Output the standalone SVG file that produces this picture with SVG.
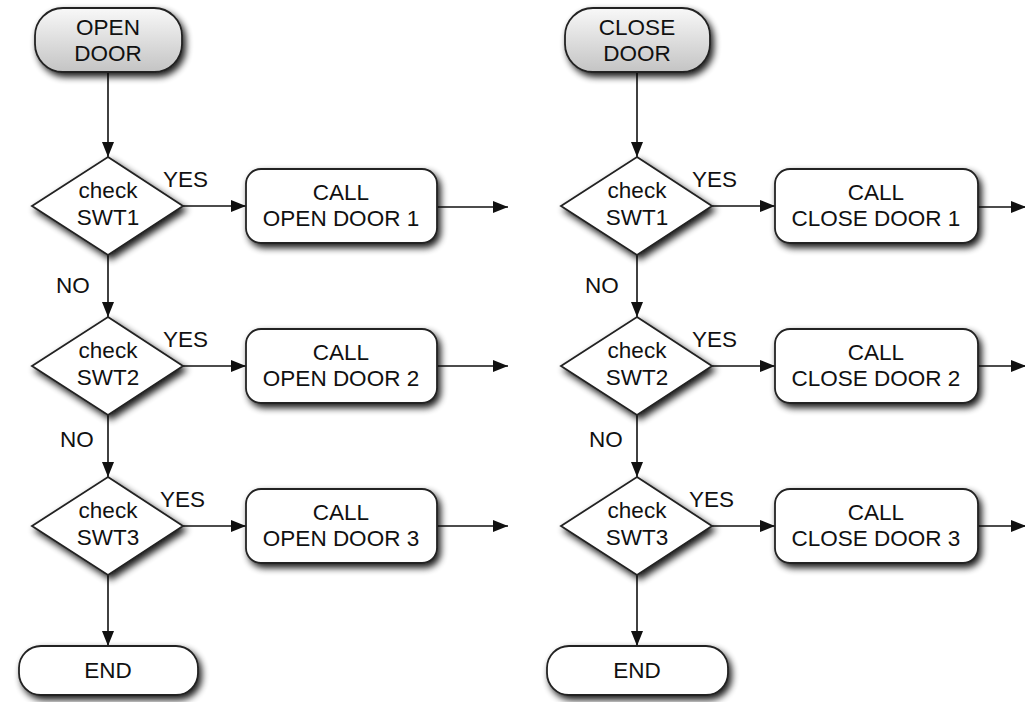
<svg xmlns="http://www.w3.org/2000/svg" width="1025" height="702" viewBox="0 0 1025 702">
<defs>
<filter id="sh" x="-20%" y="-20%" width="150%" height="160%">
<feGaussianBlur in="SourceAlpha" stdDeviation="3.5"/>
<feOffset dx="3" dy="4" result="b"/>
<feComponentTransfer><feFuncA type="linear" slope="0.9"/></feComponentTransfer>
<feMerge><feMergeNode/><feMergeNode in="SourceGraphic"/></feMerge>
</filter>
<linearGradient id="gr" x1="0" y1="0" x2="0" y2="1">
<stop offset="0" stop-color="#f8f8f8"/>
<stop offset="1" stop-color="#c4c4c4"/>
</linearGradient>
<marker id="ah" markerWidth="15" markerHeight="12" refX="15" refY="6" orient="auto" markerUnits="userSpaceOnUse">
<path d="M0,0 L15,6 L0,12 Z" fill="#111"/>
</marker>
</defs>
<style>
.s{fill:#fff;stroke:#222;stroke-width:1.8;filter:url(#sh)}
.g{fill:url(#gr);stroke:#222;stroke-width:1.8;filter:url(#sh)}
text{font-family:"Liberation Sans",Arial,sans-serif;font-size:22.5px;fill:#111;text-anchor:middle}
.l{text-anchor:start}
.c line{stroke:#111;stroke-width:1.6;marker-end:url(#ah)}
</style>
<g class="c" id="connectors">
<line x1="108" y1="72" x2="108" y2="157"/>
<line x1="183" y1="206" x2="246" y2="206"/>
<line x1="437" y1="207" x2="508" y2="207"/>
<line x1="108" y1="255" x2="108" y2="317"/>
<line x1="183" y1="366" x2="246" y2="366"/>
<line x1="437" y1="366" x2="508" y2="366"/>
<line x1="108" y1="415" x2="108" y2="477"/>
<line x1="183" y1="526" x2="246" y2="526"/>
<line x1="437" y1="526" x2="508" y2="526"/>
<line x1="108" y1="575" x2="108" y2="646"/>
<line x1="637" y1="72" x2="637" y2="157"/>
<line x1="712" y1="206" x2="775" y2="206"/>
<line x1="978" y1="207" x2="1026" y2="207"/>
<line x1="637" y1="255" x2="637" y2="317"/>
<line x1="712" y1="366" x2="775" y2="366"/>
<line x1="978" y1="366" x2="1026" y2="366"/>
<line x1="637" y1="415" x2="637" y2="477"/>
<line x1="712" y1="526" x2="775" y2="526"/>
<line x1="978" y1="526" x2="1026" y2="526"/>
<line x1="637" y1="575" x2="637" y2="646"/>
</g>
<g id="labels">
<text class="l" x="163" y="187">YES</text>
<text class="l" x="163" y="347">YES</text>
<text class="l" x="160" y="507">YES</text>
<text class="l" x="56" y="293">NO</text>
<text class="l" x="60" y="447">NO</text>
<text class="l" x="692" y="187">YES</text>
<text class="l" x="692" y="347">YES</text>
<text class="l" x="689" y="507">YES</text>
<text class="l" x="585" y="293">NO</text>
<text class="l" x="589" y="447">NO</text>
</g>
<g id="openDoor"><rect class="g" x="35" y="8" width="147" height="64" rx="28"/><text x="108" y="35">OPEN</text><text x="108" y="61">DOOR</text></g>
<g id="checkO1"><polygon class="s" points="108,157 183,206 108,255 32,206"/><text x="108" y="198">check</text><text x="108" y="225">SWT1</text></g>
<g id="callO1"><rect class="s" x="246" y="169" width="191" height="74" rx="15"/><text x="341" y="200">CALL</text><text x="341" y="226">OPEN DOOR 1</text></g>
<g id="checkO2"><polygon class="s" points="108,317 183,366 108,415 32,366"/><text x="108" y="358">check</text><text x="108" y="385">SWT2</text></g>
<g id="callO2"><rect class="s" x="246" y="329" width="191" height="74" rx="15"/><text x="341" y="360">CALL</text><text x="341" y="386">OPEN DOOR 2</text></g>
<g id="checkO3"><polygon class="s" points="108,477 183,526 108,575 32,526"/><text x="108" y="518">check</text><text x="108" y="545">SWT3</text></g>
<g id="callO3"><rect class="s" x="246" y="489" width="191" height="74" rx="15"/><text x="341" y="520">CALL</text><text x="341" y="546">OPEN DOOR 3</text></g>
<g id="endO"><rect class="s" x="19" y="646" width="179" height="49" rx="22"/><text x="108" y="678">END</text></g>
<g id="closeDoor"><rect class="g" x="565" y="8" width="145" height="64" rx="28"/><text x="637" y="35">CLOSE</text><text x="637" y="61">DOOR</text></g>
<g id="checkC1"><polygon class="s" points="637,157 712,206 637,255 561,206"/><text x="637" y="198">check</text><text x="637" y="225">SWT1</text></g>
<g id="callC1"><rect class="s" x="775" y="169" width="203" height="74" rx="15"/><text x="876" y="200">CALL</text><text x="876" y="226">CLOSE DOOR 1</text></g>
<g id="checkC2"><polygon class="s" points="637,317 712,366 637,415 561,366"/><text x="637" y="358">check</text><text x="637" y="385">SWT2</text></g>
<g id="callC2"><rect class="s" x="775" y="329" width="203" height="74" rx="15"/><text x="876" y="360">CALL</text><text x="876" y="386">CLOSE DOOR 2</text></g>
<g id="checkC3"><polygon class="s" points="637,477 712,526 637,575 561,526"/><text x="637" y="518">check</text><text x="637" y="545">SWT3</text></g>
<g id="callC3"><rect class="s" x="775" y="489" width="203" height="74" rx="15"/><text x="876" y="520">CALL</text><text x="876" y="546">CLOSE DOOR 3</text></g>
<g id="endC"><rect class="s" x="547" y="646" width="181" height="49" rx="22"/><text x="637" y="678">END</text></g>
</svg>
